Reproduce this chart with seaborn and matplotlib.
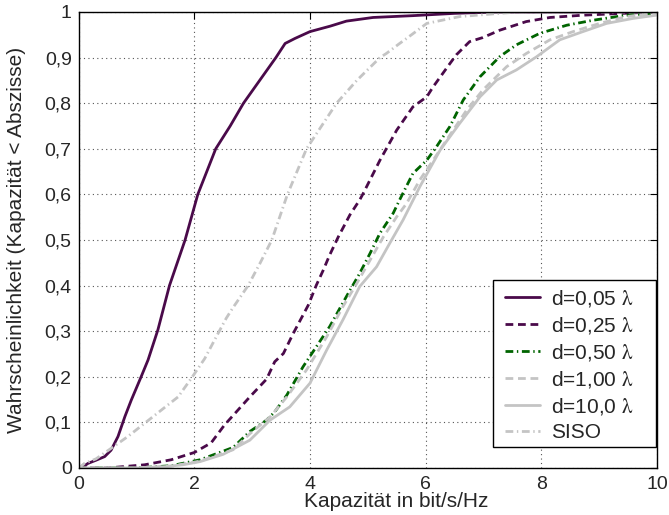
import matplotlib
matplotlib.use("Agg")
import matplotlib.pyplot as plt
from matplotlib.patches import Rectangle
import seaborn as sns
import pandas as pd

# Capacity CDF curves for different antenna spacings d (in wavelengths) and SISO
x_d005 = [0.05, 0.16, 0.3, 0.45, 0.56, 0.68, 0.8, 0.91, 1.08, 1.2, 1.37, 1.57, 1.84, 2.06,
          2.37, 2.62, 2.85, 3.13, 3.41, 3.57, 3.74, 4.0, 4.35, 4.63, 5.09, 5.78, 6.5,
          7.2, 10.0]
y_d005 = [0.0, 0.01, 0.017, 0.025, 0.039, 0.069, 0.113, 0.149, 0.2, 0.237, 0.303, 0.4,
          0.5, 0.6, 0.7, 0.75, 0.8, 0.85, 0.9, 0.931, 0.942, 0.957, 0.969, 0.98, 0.988,
          0.992, 0.997, 1.0, 1.0]

x_d025 = [0.0, 0.5, 1.14, 1.6, 2.0, 2.29, 2.52, 2.96, 3.25, 3.39, 3.54, 3.71, 3.97,
          4.11, 4.23, 4.34, 4.49, 4.69, 4.86, 4.92, 5.21, 5.50, 5.78, 6.02, 6.13, 6.42,
          6.53, 6.76, 6.99, 7.28, 7.74, 8.15, 8.72, 9.59, 10.0]
y_d025 = [0.0, 0.0, 0.007, 0.018, 0.034, 0.055, 0.094, 0.156, 0.195, 0.233, 0.251,
          0.295, 0.357, 0.401, 0.434, 0.467, 0.507, 0.555, 0.588, 0.602, 0.675, 0.741,
          0.792, 0.814, 0.836, 0.887, 0.906, 0.935, 0.944, 0.96, 0.979, 0.988, 0.993,
          0.998, 1.0]

x_d050 = [0.0, 1.0, 1.6, 2.1, 2.67, 2.96, 3.25, 3.39, 3.6, 3.88, 4.11, 4.34, 4.63, 4.86,
          5.04, 5.21, 5.44, 5.55, 5.78, 6.02, 6.19, 6.42, 6.65, 6.94, 7.28, 7.57, 7.97,
          8.44, 8.9, 9.47, 9.93, 10.0]
y_d050 = [0.0, 0.0, 0.005, 0.018, 0.045, 0.08, 0.105, 0.123, 0.16, 0.222, 0.266, 0.31,
          0.376, 0.427, 0.471, 0.515, 0.559, 0.588, 0.646, 0.675, 0.705, 0.749, 0.807,
          0.858, 0.902, 0.928, 0.953, 0.971, 0.982, 0.993, 0.997, 1.0]

x_d100 = [0.0, 1.0, 1.6, 2.1, 2.67, 2.96, 3.31, 3.6, 3.94, 4.29, 4.57, 4.81, 5.04, 5.27,
          5.50, 5.67, 5.9, 6.13, 6.36, 6.71, 6.99, 7.40, 7.74, 8.15, 8.55, 9.01, 9.47,
          9.93, 10.0]
y_d100 = [0.0, 0.0, 0.004, 0.015, 0.04, 0.075, 0.112, 0.156, 0.215, 0.288, 0.354, 0.405,
          0.456, 0.507, 0.551, 0.58, 0.632, 0.675, 0.719, 0.785, 0.829, 0.88, 0.909,
          0.939, 0.957, 0.975, 0.99, 0.997, 1.0]

x_d10 = [0.0, 1.0, 1.5, 1.8, 2.1, 2.5, 2.96, 3.31, 3.65, 4.0, 4.29, 4.57, 4.86, 5.15,
         5.38, 5.61, 5.9, 6.25, 6.59, 6.94, 7.23, 7.57, 7.92, 8.32, 8.72, 9.13, 9.59, 9.99]
y_d10 = [0.0, 0.0, 0.003, 0.007, 0.014, 0.03, 0.061, 0.105, 0.134, 0.186, 0.259, 0.325,
         0.398, 0.441, 0.493, 0.544, 0.617, 0.697, 0.756, 0.814, 0.851, 0.873, 0.902,
         0.939, 0.957, 0.975, 0.986, 0.993]

x_siso = [0.0, 0.1, 0.3, 0.56, 0.85, 1.14, 1.43, 1.72, 1.95, 2.18, 2.41, 2.55, 2.66,
          2.93, 3.14, 3.34, 3.61, 3.94, 4.2, 4.46, 4.81, 5.21, 5.32, 5.55, 5.67, 6.02,
          6.59, 7.28, 7.6, 10.0]
y_siso = [0.0, 0.01, 0.02, 0.043, 0.069, 0.098, 0.127, 0.156, 0.197, 0.24, 0.295, 0.328,
          0.35, 0.4, 0.45, 0.5, 0.6, 0.7, 0.75, 0.8, 0.85, 0.9, 0.909, 0.931, 0.942,
          0.975, 0.99, 0.997, 1.0, 1.0]

labels = ["d=0,05 $\\mathrm{\\lambda}$", "d=0,25 $\\mathrm{\\lambda}$",
          "d=0,50 $\\mathrm{\\lambda}$", "d=1,00 $\\mathrm{\\lambda}$",
          "d=10,0 $\\mathrm{\\lambda}$", "SISO"]
x_ticks = [0, 2, 4, 6, 8, 10]
y_ticks = [0, 0.1, 0.2, 0.3, 0.4, 0.5, 0.6, 0.7, 0.8, 0.9, 1.0]
y_tick_labels = ["0", "0,1", "0,2", "0,3", "0,4", "0,5", "0,6", "0,7", "0,8", "0,9", "1"]

sns.set_theme(style="white")
plt.rcParams["font.family"] = ["Liberation Sans", "DejaVu Sans"]
plt.rcParams["mathtext.fontset"] = "stix"

purple = "#4a0a4a"
green = "#006400"
gray = "#c4c4c4"
lw = 2.0

fig = plt.figure(figsize=(6.69, 5.15), dpi=100)
ax = fig.add_axes([0.1176, 0.0913, 0.8644, 0.8854])

series = [
    (x_d005, y_d005, purple, "-"),
    (x_d025, y_d025, purple, (0, (2.8, 1.7))),
    (x_d050, y_d050, green, (0, (2.8, 1.3, 0.5, 1.3))),
    (x_d100, y_d100, gray, (0, (2.8, 1.7))),
    (x_d10, y_d10, gray, "-"),
    (x_siso, y_siso, gray, (0, (2.8, 1.3, 0.5, 1.3))),
]
for (xs, ys, col, ls), lab in zip(series, labels):
    df = pd.DataFrame({"x": xs, "y": ys})
    sns.lineplot(data=df, x="x", y="y", ax=ax, color=col, linestyle=ls,
                 linewidth=lw, label=lab, sort=False, estimator=None)

ax.set_xlim(0, 10)
ax.set_ylim(0, 1)
ax.set_xticks(x_ticks)
ax.set_xticklabels([str(t) for t in x_ticks])
ax.set_yticks(y_ticks)
ax.set_yticklabels(y_tick_labels)
ax.tick_params(axis="both", direction="in", length=5, width=0.8, labelsize=14,
               top=True, right=True, color="black")
ax.tick_params(axis="x", pad=6)
ax.tick_params(axis="y", pad=5)
ax.grid(True, linestyle=(0, (1, 3)), color="#555555", linewidth=0.8)
for sp in ax.spines.values():
    sp.set_color("black")
    sp.set_linewidth(1.0)

ax.set_xlabel("Kapazität in bit/s/Hz", fontsize=15)
ax.xaxis.set_label_coords(0.5496, -0.052)
ax.set_ylabel("Wahrscheinlichkeit (Kapazität < Abszisse)", fontsize=15)
ax.yaxis.set_label_coords(-0.091, 0.501)

# legend box with extra room on the right, entries placed inside it
ax.add_patch(Rectangle((0.7164, 0.046), 0.2819, 0.3663, transform=ax.transAxes,
                       facecolor="white", edgecolor="black", linewidth=1.0,
                       zorder=4, clip_on=False))
leg = ax.legend(loc="center left", bbox_to_anchor=(0.7372, 0.2265), fontsize=15,
                frameon=False, handlelength=1.7, handletextpad=0.5,
                borderpad=0.0, labelspacing=0.29, borderaxespad=0.0)
leg.set_zorder(5)

fig.savefig("out.png", dpi=100)
